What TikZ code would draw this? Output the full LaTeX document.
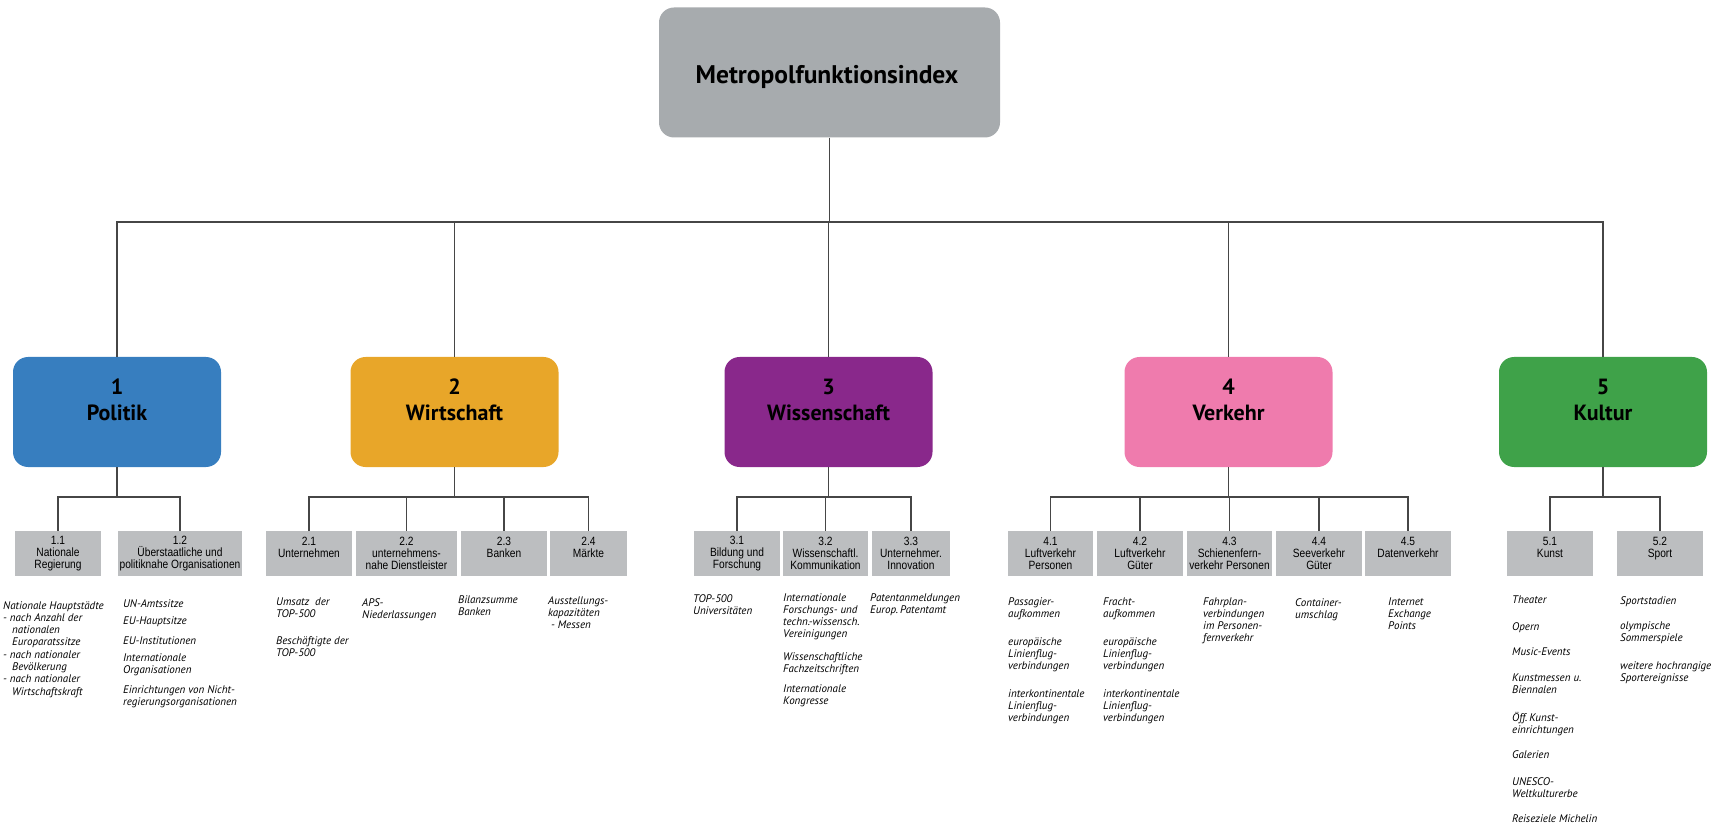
\documentclass[tikz,border=0pt]{standalone}
\usepackage{fontspec}
\setmainfont{PT Sans}
\newfontfamily\subfont[FakeStretch=0.85]{Liberation Sans}
\definecolor{polblue}{RGB}{55,126,191}
\definecolor{wirtorange}{RGB}{232,166,41}
\definecolor{wisspurple}{RGB}{137,40,139}
\definecolor{verkpink}{RGB}{239,123,173}
\definecolor{kultgreen}{RGB}{63,162,73}
\definecolor{titlegray}{RGB}{167,171,174}
\definecolor{subgray}{RGB}{188,190,192}
\definecolor{linegray}{RGB}{70,70,70}
\begin{document}
\begin{tikzpicture}[x=1pt,y=-1pt,
  titlebox/.style={fill=titlegray, rounded corners=15pt, minimum width=341pt, minimum height=130pt, inner sep=0pt},
  titletext/.style={font=\bfseries\fontsize{25.5}{28}\selectfont, inner sep=0pt},
  cat/.style={rounded corners=15pt, minimum width=208pt, minimum height=110pt, inner sep=0pt},
  cattext/.style={font=\bfseries\fontsize{22}{26}\selectfont, align=center, inner sep=0pt},
  sub/.style={fill=subgray, minimum width=#1, minimum height=45pt, inner sep=0pt, align=center, font=\subfont\fontsize{12}{12.3}\selectfont},
  desc/.style={anchor=north west, inner sep=0pt, align=left, font=\itshape\fontsize{11}{12}\selectfont},
  conn/.style={draw=linegray, line width=1.5pt}]
\useasboundingbox (0,0) rectangle (1725,826);

% title
\node[titlebox] (top) at (829.5,72.5) {};
\node[titletext] (toptext) at (827,77) {Metropolfunktionsindex};

% categories
\node[cat, fill=polblue] (c1) at (117,412) {};
\node[cat, fill=wirtorange] (c2) at (454.5,412) {};
\node[cat, fill=wisspurple] (c3) at (828.5,412) {};
\node[cat, fill=verkpink] (c4) at (1228.5,412) {};
\node[cat, fill=kultgreen] (c5) at (1603,412) {};
\node[cattext] (c1t) at (117,400) {1\\Politik};
\node[cattext] (c2t) at (454.5,400) {2\\Wirtschaft};
\node[cattext] (c3t) at (828.5,400) {3\\Wissenschaft};
\node[cattext] (c4t) at (1228.5,400) {4\\Verkehr};
\node[cattext] (c5t) at (1603,400) {5\\Kultur};

% top connectors
\coordinate (b0) at (829.5,222);
\draw[conn] (top.south) -- (b0);
\draw[conn] (c1.north) |- (b0) -| (c5.north);
\draw[conn] (c2.north) -- (c2.north |- b0);
\draw[conn] (c3.north) -- (c3.north |- b0);
\draw[conn] (c4.north) -- (c4.north |- b0);

% sub boxes
\node[sub=86pt] (s11) at (58,553.5) {1.1\\Nationale\\Regierung};
\node[sub=124pt] (s12) at (180,553.5) {1.2\\Überstaatliche und\\politiknahe Organisationen};
\node[sub=86pt] (s21) at (309,553.5) {2.1\\Unternehmen\\\mbox{}};
\node[sub=101pt] (s22) at (406.5,553.5) {2.2\\unternehmens-\\nahe Dienstleister};
\node[sub=86pt] (s23) at (504,553.5) {2.3\\Banken\\\mbox{}};
\node[sub=77pt] (s24) at (588.5,553.5) {2.4\\Märkte\\\mbox{}};
\node[sub=86pt] (s31) at (737,553.5) {3.1\\Bildung und\\Forschung};
\node[sub=85pt] (s32) at (825.5,553.5) {3.2\\Wissenschaftl.\\Kommunikation};
\node[sub=78pt] (s33) at (911,553.5) {3.3\\Unternehmer.\\Innovation};
\node[sub=85pt] (s41) at (1050.5,553.5) {4.1\\Luftverkehr\\Personen};
\node[sub=86pt] (s42) at (1140,553.5) {4.2\\Luftverkehr\\Güter};
\node[sub=85pt] (s43) at (1229.5,553.5) {4.3\\Schienenfern-\\verkehr Personen};
\node[sub=86pt] (s44) at (1319,553.5) {4.4\\Seeverkehr\\Güter};
\node[sub=86pt] (s45) at (1408,553.5) {4.5\\Datenverkehr\\\mbox{}};
\node[sub=86pt] (s51) at (1550,553.5) {5.1\\Kunst\\\mbox{}};
\node[sub=86pt] (s52) at (1660,553.5) {5.2\\Sport\\\mbox{}};

% sub connectors
\coordinate (b1) at (117,497);
\draw[conn] (c1.south) -- (b1);
\draw[conn] (s11.north) |- (b1) -| (s12.north);
\coordinate (b2) at (454.5,497);
\draw[conn] (c2.south) -- (b2);
\draw[conn] (s21.north) |- (b2) -| (s24.north);
\draw[conn] (s22.north) -- (s22.north |- b2);
\draw[conn] (s23.north) -- (s23.north |- b2);
\coordinate (b3) at (828.5,497);
\draw[conn] (c3.south) -- (b3);
\draw[conn] (s31.north) |- (b3) -| (s33.north);
\draw[conn] (s32.north) -- (s32.north |- b3);
\coordinate (b4) at (1228.5,497);
\draw[conn] (c4.south) -- (b4);
\draw[conn] (s41.north) |- (b4) -| (s45.north);
\draw[conn] (s42.north) -- (s42.north |- b4);
\draw[conn] (s43.north) -- (s43.north |- b4);
\draw[conn] (s44.north) -- (s44.north |- b4);
\coordinate (b5) at (1603,497);
\draw[conn] (c5.south) -- (b5);
\draw[conn] (s51.north) |- (b5) -| (s52.north);

% descriptions
\node[desc, font=\itshape\fontsize{11}{12.3}\selectfont] (d11a) at (3,601) {Nationale Hauptstädte\\- nach Anzahl der\\\hspace*{9pt}nationalen\\\hspace*{9pt}Europaratssitze\\- nach nationaler\\\hspace*{9pt}Bevölkerung\\- nach nationaler\\\hspace*{9pt}Wirtschaftskraft};
\node[desc] (d12a) at (123,599) {UN-Amtssitze};
\node[desc] (d12b) at (123,617) {EU-Hauptsitze};
\node[desc] (d12c) at (123,637) {EU-Institutionen};
\node[desc] (d12d) at (123,654) {Internationale\\Organisationen};
\node[desc] (d12e) at (123,685) {Einrichtungen von Nicht-\\regierungsorganisationen};

\node[desc] (d21a) at (276,598) {Umsatz~ der\\TOP-500};
\node[desc] (d21b) at (276,636) {Beschäftigte der\\TOP-500};
\node[desc] (d22a) at (362,598) {APS-\\Niederlassungen};
\node[desc] (d23a) at (458,596) {Bilanzsumme\\Banken};
\node[desc] (d24a) at (548,596) {Ausstellungs-\\kapazitäten\\\hspace*{3pt}- Messen};

\node[desc] (d31a) at (693,594) {TOP-500\\Universitäten};
\node[desc] (d32a) at (783,594) {Internationale\\Forschungs- und\\techn.-wissensch.\\Vereinigungen};
\node[desc] (d32b) at (783,652) {Wissenschaftliche\\Fachzeitschriften};
\node[desc] (d32c) at (783,685) {Internationale\\Kongresse};
\node[desc] (d33a) at (870,594) {Patentanmeldungen\\Europ.\,Patentamt};

\node[desc] (d41a) at (1008,598) {Passagier-\\aufkommen};
\node[desc] (d41b) at (1008,638) {europäische\\Linienflug-\\verbindungen};
\node[desc] (d41c) at (1008,690) {interkontinentale\\Linienflug-\\verbindungen};
\node[desc] (d42a) at (1103,598) {Fracht-\\aufkommen};
\node[desc] (d42b) at (1103,638) {europäische\\Linienflug-\\verbindungen};
\node[desc] (d42c) at (1103,690) {interkontinentale\\Linienflug-\\verbindungen};
\node[desc] (d43a) at (1203,598) {Fahrplan-\\verbindungen\\im Personen-\\fernverkehr};
\node[desc] (d44a) at (1295,598) {Container-\\umschlag};
\node[desc] (d45a) at (1388,598) {Internet\\Exchange\\Points};

\node[desc] (d51a) at (1512,596) {Theater};
\node[desc] (d51b) at (1512,622) {Opern};
\node[desc] (d51c) at (1512,648) {Music-Events};
\node[desc] (d51d) at (1512,674) {Kunstmessen u.\\Biennalen};
\node[desc] (d51e) at (1512,712) {Öff.\,Kunst-\\einrichtungen};
\node[desc] (d51f) at (1512,750) {Galerien};
\node[desc] (d51g) at (1512,777) {UNESCO-\\Weltkulturerbe};
\node[desc] (d51h) at (1512,815) {Reiseziele Michelin};
\node[desc] (d52a) at (1620,596) {Sportstadien};
\node[desc] (d52b) at (1620,622) {olympische\\Sommerspiele};
\node[desc] (d52c) at (1620,662) {weitere hochrangige\\Sportereignisse};
\end{tikzpicture}
\end{document}
